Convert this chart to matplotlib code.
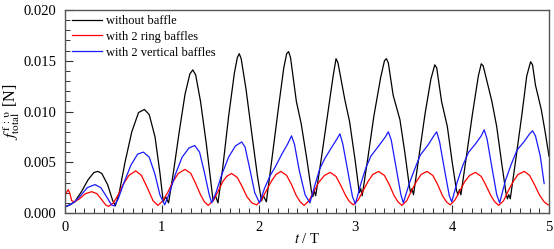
import numpy as np
import matplotlib
matplotlib.use('Agg')
import matplotlib.pyplot as plt
from matplotlib.ticker import MultipleLocator, FormatStrFormatter

plt.rcParams.update({
    "font.family": "serif", "font.serif": ["Liberation Serif", "DejaVu Serif"],
    "mathtext.fontset": "stix", "font.size": 10.5,
})

t_black = [0.00, 0.05, 0.10, 0.17, 0.24, 0.30, 0.34, 0.38, 0.44, 0.49, 0.52, 0.56, 0.62, 0.69, 0.76,
           0.82, 0.87, 0.93, 0.98, 1.015, 1.04, 1.07, 1.12, 1.18, 1.24, 1.29, 1.32, 1.35, 1.40, 1.46,
           1.51, 1.53, 1.555, 1.58, 1.63, 1.69, 1.75, 1.78, 1.80, 1.82, 1.87, 1.93, 1.99, 2.03, 2.05,
           2.08, 2.14, 2.20, 2.26, 2.29, 2.31, 2.33, 2.39, 2.44, 2.50, 2.545, 2.56, 2.575, 2.59, 2.65,
           2.71, 2.77, 2.80, 2.82, 2.89, 2.94, 3.00, 3.04, 3.055, 3.07, 3.13, 3.19, 3.26, 3.30, 3.32,
           3.34, 3.39, 3.46, 3.51, 3.555, 3.57, 3.585, 3.60, 3.66, 3.72, 3.78, 3.82, 3.84, 3.89, 3.95,
           4.00, 4.045, 4.06, 4.075, 4.09, 4.15, 4.21, 4.27, 4.30, 4.32, 4.41, 4.46, 4.51, 4.555, 4.57,
           4.585, 4.60, 4.66, 4.72, 4.77, 4.81, 4.83, 4.86, 4.92, 4.96, 5.00]
f_black = [0.0006, 0.0008, 0.0011, 0.0021, 0.0033, 0.0040, 0.0041, 0.0039, 0.0028, 0.0013, 0.0007,
           0.0020, 0.0050, 0.0080, 0.0099, 0.0102, 0.0097, 0.0075, 0.0040, 0.0011, 0.0016, 0.0010,
           0.0040, 0.0080, 0.0117, 0.0137, 0.0141, 0.0136, 0.0110, 0.0068, 0.0028, 0.0012, 0.0017,
           0.0010, 0.0045, 0.0095, 0.0138, 0.0153, 0.0157, 0.0152, 0.0122, 0.0078, 0.0035, 0.0012,
           0.0017, 0.0011, 0.0055, 0.0100, 0.0143, 0.0157, 0.0159, 0.0153, 0.0110, 0.0088, 0.0052,
           0.0022, 0.0016, 0.0022, 0.0017, 0.0055, 0.0095, 0.0135, 0.0152, 0.0148, 0.0112, 0.0090,
           0.0050, 0.0020, 0.0024, 0.0017, 0.0055, 0.0095, 0.0133, 0.0150, 0.0152, 0.0148, 0.0116,
           0.0092, 0.0060, 0.0028, 0.0020, 0.0024, 0.0018, 0.0058, 0.0098, 0.0132, 0.0146, 0.0143,
           0.0110, 0.0085, 0.0050, 0.0022, 0.0018, 0.0023, 0.0018, 0.0058, 0.0098, 0.0135, 0.0147,
           0.0145, 0.0110, 0.0085, 0.0050, 0.0020, 0.0014, 0.0018, 0.0014, 0.0055, 0.0097, 0.0135,
           0.0149, 0.0146, 0.0126, 0.0102, 0.0080, 0.0056]

t_red = [0.00, 0.02, 0.035, 0.05, 0.07, 0.10, 0.15, 0.21, 0.275, 0.33, 0.38, 0.42, 0.45, 0.50, 0.55,
         0.60, 0.66, 0.73, 0.79, 0.85, 0.91, 0.96, 1.01, 1.06, 1.11, 1.17, 1.24, 1.30, 1.35, 1.40,
         1.44, 1.48, 1.53, 1.58, 1.63, 1.67, 1.72, 1.78, 1.83, 1.88, 1.93, 1.98, 2.03, 2.08, 2.13,
         2.18, 2.23, 2.29, 2.34, 2.39, 2.43, 2.47, 2.52, 2.57, 2.62, 2.68, 2.74, 2.80, 2.85, 2.90,
         2.94, 2.98, 3.03, 3.08, 3.13, 3.18, 3.24, 3.30, 3.35, 3.40, 3.44, 3.48, 3.53, 3.58, 3.63,
         3.68, 3.74, 3.80, 3.85, 3.90, 3.94, 3.98, 4.03, 4.08, 4.13, 4.18, 4.24, 4.30, 4.35, 4.40,
         4.44, 4.48, 4.53, 4.58, 4.63, 4.68, 4.745, 4.80, 4.85, 4.90, 4.95, 4.99, 5.00]
f_red = [0.0017, 0.0021, 0.0023, 0.0019, 0.0012, 0.0011, 0.0014, 0.0019, 0.0021, 0.0019, 0.0013,
         0.0008, 0.00065, 0.0010, 0.0018, 0.0028, 0.0037, 0.00415, 0.0037, 0.0025, 0.0012, 0.00075,
         0.0012, 0.0020, 0.0030, 0.0039, 0.0043, 0.0039, 0.0029, 0.0018, 0.0011, 0.00075, 0.0012,
         0.0021, 0.0031, 0.0036, 0.0039, 0.0035, 0.0026, 0.0016, 0.0010, 0.0008, 0.0013, 0.0022,
         0.0031, 0.0038, 0.0041, 0.0037, 0.0028, 0.0017, 0.0011, 0.00075, 0.0012, 0.0021, 0.0030,
         0.0037, 0.0040, 0.0036, 0.0027, 0.0017, 0.0011, 0.0008, 0.0013, 0.0022, 0.0031, 0.0038,
         0.0041, 0.0037, 0.0028, 0.0017, 0.0011, 0.00075, 0.0012, 0.0022, 0.0031, 0.0038, 0.0041,
         0.0037, 0.0028, 0.0017, 0.0011, 0.0008, 0.0013, 0.0022, 0.0031, 0.0037, 0.0040, 0.0036,
         0.0027, 0.0017, 0.0011, 0.00075, 0.0012, 0.0022, 0.0031, 0.0038, 0.0041, 0.0037, 0.0028,
         0.0018, 0.0011, 0.0008, 0.0008]

t_blue = [0.00, 0.05, 0.10, 0.16, 0.23, 0.31, 0.37, 0.43, 0.48, 0.51, 0.55, 0.61, 0.68, 0.75, 0.81,
          0.87, 0.93, 0.98, 1.03, 1.08, 1.14, 1.21, 1.28, 1.34, 1.39, 1.44, 1.49, 1.515, 1.56, 1.62,
          1.69, 1.76, 1.825, 1.86, 1.91, 1.96, 2.01, 2.06, 2.12, 2.17, 2.24, 2.30, 2.34, 2.37, 2.42,
          2.48, 2.53, 2.58, 2.63, 2.68, 2.75, 2.81, 2.84, 2.87, 2.92, 2.97, 3.00, 3.06, 3.11, 3.16,
          3.24, 3.31, 3.34, 3.37, 3.42, 3.47, 3.495, 3.56, 3.62, 3.67, 3.75, 3.81, 3.84, 3.87, 3.92,
          3.97, 3.995, 4.05, 4.11, 4.17, 4.24, 4.30, 4.33, 4.36, 4.41, 4.46, 4.49, 4.55, 4.61, 4.67,
          4.74, 4.80, 4.83, 4.86, 4.91, 4.95]
f_blue = [0.0006, 0.0008, 0.0011, 0.0017, 0.0025, 0.0028, 0.0025, 0.0016, 0.0008, 0.0007, 0.0014,
          0.0030, 0.0047, 0.0058, 0.0060, 0.0055, 0.0038, 0.0018, 0.0008, 0.0020, 0.0038, 0.0055,
          0.0064, 0.00665, 0.0060, 0.0040, 0.0018, 0.0010, 0.0020, 0.0038, 0.0055, 0.0066, 0.0070,
          0.0065, 0.0043, 0.0020, 0.0010, 0.0024, 0.0037, 0.0045, 0.0058, 0.0068, 0.0076, 0.0068,
          0.0042, 0.0018, 0.0010, 0.0027, 0.0043, 0.0053, 0.0064, 0.0073, 0.0078, 0.0068, 0.0042,
          0.0016, 0.0009, 0.0030, 0.0045, 0.0056, 0.0066, 0.0075, 0.0080, 0.0072, 0.0045, 0.0018,
          0.0010, 0.0030, 0.0045, 0.0057, 0.0067, 0.0076, 0.0080, 0.0070, 0.0043, 0.0017, 0.0011,
          0.0030, 0.0047, 0.0060, 0.0068, 0.0076, 0.0082, 0.0073, 0.0045, 0.0018, 0.0010, 0.0032,
          0.0048, 0.0062, 0.0070, 0.0078, 0.0081, 0.0076, 0.0056, 0.0029]

labels = ['without baffle', 'with 2 ring baffles', 'with 2 vertical baffles']

fig = plt.figure(figsize=(5.54, 2.49), dpi=100)
ax = fig.add_axes([65 / 554, 36 / 249, 484 / 554, 203 / 249])

ax.plot(t_black, f_black, color='black', lw=0.9, label=labels[0])
ax.plot(t_red, f_red, color='#ff0000', lw=0.9, label=labels[1])
ax.plot(t_blue, f_blue, color='#1a1aff', lw=0.9, label=labels[2])

ax.set_xlim(0, 5)
ax.set_ylim(0, 0.020)
ax.xaxis.set_major_locator(MultipleLocator(1))
ax.xaxis.set_minor_locator(MultipleLocator(0.1))
ax.yaxis.set_major_locator(MultipleLocator(0.005))
ax.yaxis.set_minor_locator(MultipleLocator(0.001))
ax.yaxis.set_major_formatter(FormatStrFormatter('%.3f'))
ax.tick_params(which='both', direction='in', top=False, right=False, color='#333333')
ax.tick_params(which='major', length=6, width=0.8, pad=6)
ax.tick_params(which='minor', length=3.5, width=0.7)
for s in ax.spines.values():
    s.set_color('#555555')
    s.set_linewidth(1.0)

ax.set_xlabel(r'$t$ / T', labelpad=-1.5)
ax.set_ylabel(r'$f^{\,\mathrm{f\,:\,\upsilon}}_{\mathrm{total}}$ [N]', fontsize=11.5)
ax.yaxis.set_label_coords(-0.089, 0.5)

ax.legend(loc='upper left', bbox_to_anchor=(0.014, 0.975), frameon=False, fontsize=9,
          handlelength=2.4, handletextpad=0.3, labelspacing=0.3, borderpad=0, borderaxespad=0)

fig.savefig('out.png', dpi=100)
